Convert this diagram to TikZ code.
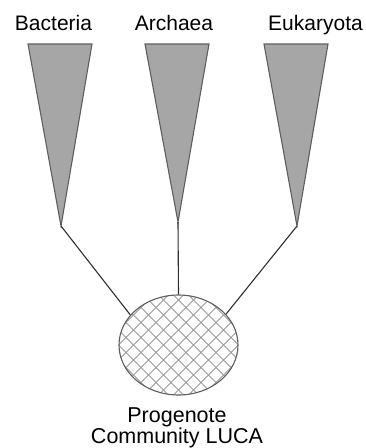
\documentclass[tikz,border=0pt]{standalone}
\usepackage{fontspec}
\setmainfont{Liberation Sans}
\usetikzlibrary{shapes.geometric}
\definecolor{wedgefill}{HTML}{A6A6A6}
\definecolor{wedgeedge}{HTML}{5E5E5E}
\definecolor{stemline}{HTML}{2E2E2E}
\definecolor{hatchline}{HTML}{9A9A9A}
\tikzset{
  wedge/.style={fill=wedgefill,draw=wedgeedge,line width=1.1pt,line join=miter},
  stem/.style={draw=stemline,line width=1.1pt},
  domainlabel/.style={anchor=base,inner sep=0pt,font=\fontsize{21}{24}\selectfont},
}
\begin{document}
\begin{tikzpicture}[x=1pt,y=-1pt]
\useasboundingbox (0,0) rectangle (366,448);
% domain labels
\node[domainlabel] (bac) at (53.5,30) {Bacteria};
\node[domainlabel] (arc) at (174,30) {Archaea};
\node[domainlabel] (euk) at (315.5,30) {Eukaryota};
% wedges
\coordinate (bactip) at (61,226);
\coordinate (arctip) at (178,222);
\coordinate (euktip) at (297,226);
\draw[wedge] (28,44) -- (92,44) -- (bactip) -- cycle;
\draw[wedge] (145,44) -- (209,44) -- (arctip) -- cycle;
\draw[wedge] (264,44) -- (328,44) -- (euktip) -- cycle;
% progenote community
\node[ellipse,draw=wedgeedge,line width=1.1pt,minimum width=119pt,minimum height=100pt,inner sep=0pt,
  path picture={
    \foreach \i in {-20,...,20}{
      \draw[hatchline,line width=0.9pt] ([xshift=\i*15pt]path picture bounding box.center) ++(-80,-80) -- ++(160,160);
      \draw[hatchline,line width=0.9pt] ([xshift=\i*15pt]path picture bounding box.center) ++(-80,80) -- ++(160,-160);
    }
  }] (luca) at (178.5,345) {};
\draw[stem] (bactip) -- (luca.148);
\draw[stem] (arctip) -- (luca.north);
\draw[stem] (euktip) -- (luca.33);
\node[anchor=base,align=center,inner sep=0pt,font=\fontsize{21.5}{19.5}\selectfont] (name) at (177,443.5) {Progenote\\Community LUCA};
\end{tikzpicture}
\end{document}
